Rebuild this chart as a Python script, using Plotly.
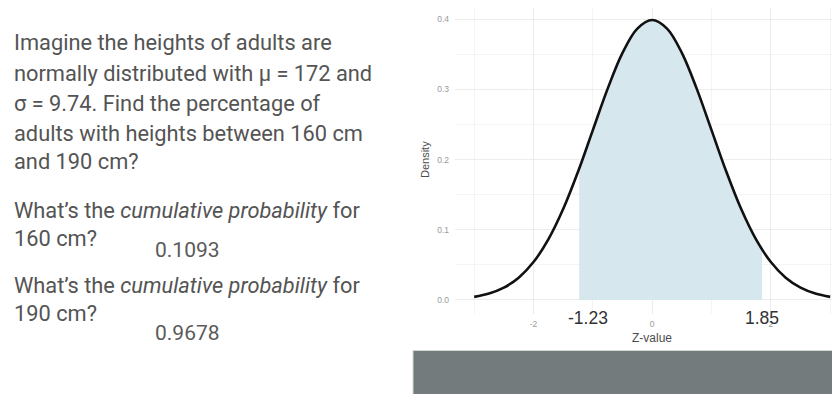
import plotly.graph_objects as go

# ---- data ----
z_values = [-3.0, -2.75, -2.5, -2.25, -2.0, -1.75, -1.5, -1.25, -1.0, -0.75, -0.5, -0.25,
            0.0, 0.25, 0.5, 0.75, 1.0, 1.25, 1.5, 1.75, 2.0, 2.25, 2.5, 2.75, 3.0]
density = [0.0044, 0.0091, 0.0175, 0.0317, 0.0540, 0.0863, 0.1295, 0.1826, 0.2420, 0.3011,
           0.3521, 0.3867, 0.3989, 0.3867, 0.3521, 0.3011, 0.2420, 0.1826, 0.1295, 0.0863,
           0.0540, 0.0317, 0.0175, 0.0091, 0.0044]
shade_z = [-1.23, -1.0, -0.75, -0.5, -0.25, 0.0, 0.25, 0.5, 0.75, 1.0, 1.25, 1.5, 1.75, 1.85]
shade_density = [0.1872, 0.2420, 0.3011, 0.3521, 0.3867, 0.3989, 0.3867, 0.3521, 0.3011,
                 0.2420, 0.1826, 0.1295, 0.0863, 0.0721]
bounds = [-1.23, 1.85]
x_ticks = [-2, 0, 2]
y_ticks = [0.0, 0.1, 0.2, 0.3, 0.4]

question_lines = [
    "Imagine the heights of adults are",
    "normally distributed with \u03bc = 172 and",
    "\u03c3 = 9.74. Find the percentage of",
    "adults with heights between 160 cm",
    "and 190 cm?",
    "What\u2019s the <i>cumulative probability</i> for",
    "160 cm?",
    "What\u2019s the <i>cumulative probability</i> for",
    "190 cm?",
]
answers = ["0.1093", "0.9678"]

W, H = 840, 394
OFF = 8  # page body margin: figure pixels appear shifted by this amount


def px(x):
    return (x - OFF) / W


def py(y):
    return (H - (y - OFF)) / H


fig = go.Figure()
fig.add_trace(go.Scatter(
    x=shade_z, y=shade_density, mode="lines", line=dict(width=0, shape="spline"),
    fill="tozeroy", fillcolor="#d7e7ee", hoverinfo="skip", showlegend=False))
fig.add_trace(go.Scatter(
    x=z_values, y=density, mode="lines", line=dict(color="#111111", width=2.6, shape="spline"),
    showlegend=False))

annotations = []
line_y = [43, 73, 103, 133, 162, 210, 238, 285, 313]
for t, yy in zip(question_lines, line_y):
    annotations.append(dict(text=t, x=px(12), y=py(yy), xref="paper", yref="paper",
                            xanchor="left", yanchor="middle", showarrow=False,
                            font=dict(family="Roboto", size=21.8, color="#545454")))
for t, yy in zip(answers, [250, 333]):
    annotations.append(dict(text=t, x=px(153), y=py(yy), xref="paper", yref="paper",
                            xanchor="left", yanchor="middle", showarrow=False,
                            font=dict(family="Roboto", size=21, color="#5a5a5a")))

# boundary labels
for b, shift in zip(bounds, [9, 0]):
    annotations.append(dict(text=f"{b:.2f}", x=b, xref="x", y=py(318), yref="paper",
                            xshift=shift, xanchor="center", yanchor="middle", showarrow=False,
                            font=dict(family="Liberation Sans, Arial", size=17.5, color="#333333")))

annotations.append(dict(text="Z-value", x=0, xref="x", y=py(338), yref="paper",
                        xanchor="center", yanchor="middle", showarrow=False,
                        font=dict(family="Liberation Sans, Arial", size=12, color="#4d4d4d")))
annotations.append(dict(text="Density", x=px(425), y=py(160), xref="paper", yref="paper",
                        textangle=-90, xanchor="center", yanchor="middle", showarrow=False,
                        font=dict(family="Liberation Sans, Arial", size=11, color="#4d4d4d")))

fig.update_layout(
    width=W, height=H,
    margin=dict(l=0, r=0, t=0, b=0),
    paper_bgcolor="white", plot_bgcolor="white",
    annotations=annotations,
    shapes=[dict(type="rect", xref="paper", yref="paper", x0=px(413), x1=1.0,
                 y0=0, y1=py(350.5), fillcolor="#747b7c",
                 line=dict(color="#d4d6d6", width=1), layer="above")],
    xaxis=dict(domain=[px(455), 1.0], range=[-3.323, 3.3], tickvals=x_ticks,
               ticktext=[str(v) for v in x_ticks], showgrid=True, gridcolor="#ececec",
               gridwidth=1, zeroline=False, showline=False, ticks="",
               tickfont=dict(family="Liberation Sans, Arial", size=8.5, color="#9a9a9a"),
               ticklabelstandoff=3,
               minor=dict(tickvals=[-3, -1, 1, 3], showgrid=True, gridcolor="#f4f4f4", gridwidth=1)),
    yaxis=dict(domain=[py(314), 1.0], range=[-0.02, 0.416], tickvals=y_ticks,
               ticktext=[f"{v:.1f}" for v in y_ticks], showgrid=True, gridcolor="#ececec",
               gridwidth=1, zeroline=False, showline=False, ticks="",
               tickfont=dict(family="Liberation Sans, Arial", size=8.5, color="#9a9a9a"),
               ticklabelstandoff=5,
               minor=dict(tickvals=[0.05, 0.15, 0.25, 0.35], showgrid=True,
                          gridcolor="#f4f4f4", gridwidth=1)),
)

fig.write_html("out.html")
